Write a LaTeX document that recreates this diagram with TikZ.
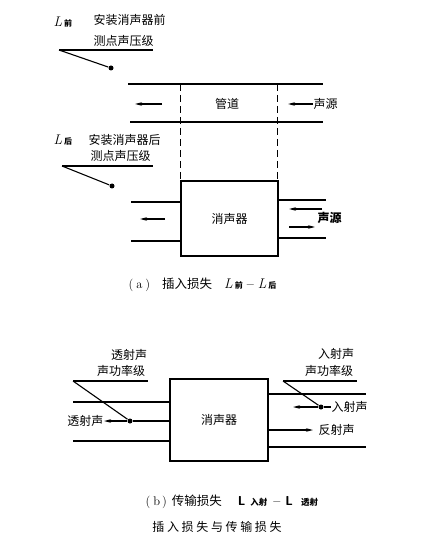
\documentclass[tikz,border=0pt]{standalone}
\usepackage{fontspec}
\newfontfamily\cjk{Noto Sans CJK SC}
\newfontfamily\cjkw[LetterSpace=22]{Noto Sans CJK SC}
\usetikzlibrary{arrows.meta}
\begin{document}
\begin{tikzpicture}[x=1pt,y=-1pt, line width=1.1pt,
  txt/.style={font=\cjk\fontsize{12}{14}\selectfont, inner sep=0pt},
  capt/.style={font=\cjk\fontsize{12.5}{14}\selectfont, inner sep=0pt},
  arr/.style={-{Stealth[length=7pt,width=3.5pt]}},
  dotp/.style={circle, fill, inner sep=0pt, minimum size=5pt},
  mbox/.style={draw, line width=1.7pt, inner sep=0pt, font=\cjk\fontsize{12}{14}\selectfont},
  dsh/.style={line width=0.9pt, dash pattern=on 7pt off 4pt}
]
\useasboundingbox (0,0) rectangle (435,553);
\newcommand{\Lsub}[1]{{\rmfamily\itshape\fontsize{14}{14}\selectfont L}\hspace{2pt}{\cjk\fontsize{8}{8}\selectfont\bfseries #1}}

% ---------- (a) top: pipe ----------
\node[txt, anchor=west] (Lq) at (53,22) {\Lsub{前}};
\node[txt, anchor=west] (t1) at (93,20) {安装消声器前};
\node[txt, anchor=west] (t2) at (93,41) {测点声压级};
\coordinate (u1a) at (59,50);
\coordinate (u1b) at (153,50);
\node[dotp] (d1) at (111,68) {};
\draw (u1a) -- (u1b);
\draw (u1a) -- (d1);

\coordinate (p1) at (128,84); \coordinate (p2) at (323,84);
\coordinate (p3) at (130,122); \coordinate (p4) at (323,122);
\draw (p1) -- (p2);
\draw (p3) -- (p4);
\node[txt] (gd) at (227,104) {管道};
\coordinate (la1) at (162,104); \coordinate (la2) at (135,104);
\draw[arr] (la1) -- (la2);
\coordinate (ra1) at (313,104); \coordinate (ra2) at (288,104);
\draw[arr] (ra1) -- (ra2);
\node[txt, anchor=west] (sy1) at (313,104) {声源};

% ---------- (a) bottom: muffler ----------
\node[txt, anchor=west] (Lh) at (53,140) {\Lsub{后}};
\node[txt, anchor=west] (t3) at (88,140) {安装消声器后};
\node[txt, anchor=west] (t4) at (90,156) {测点声压级};
\coordinate (u2a) at (62,166);
\coordinate (u2b) at (153,166);
\node[dotp] (d2) at (112,186) {};
\draw (u2a) -- (u2b);
\draw (u2a) -- (d2);

\node[mbox, minimum width=97pt, minimum height=75pt] (m1) at (229.5,218.5) {消声器};
\coordinate (v1) at (180,84); \coordinate (v2) at (277,84);
\draw[dsh] (v1) -- (v1 |- m1.north);
\draw[dsh] (v2) -- (v2 |- m1.north);

\coordinate (a1) at (131,202); \coordinate (a2) at (131,241);
\draw (a1) -- (a1 -| m1.west);
\draw (a2) -- (a2 -| m1.west);
\coordinate (a3) at (326,200); \coordinate (a4) at (326,238);
\draw (a3 -| m1.east) -- (a3);
\draw (a4 -| m1.east) -- (a4);
\coordinate (lb1) at (165,219); \coordinate (lb2) at (140,219);
\draw[arr] (lb1) -- (lb2);
\coordinate (rb1) at (322,209); \coordinate (rb2) at (289,209);
\draw[arr] (rb1) -- (rb2);
\coordinate (rc1) at (289,227); \coordinate (rc2) at (315,227);
\draw[arr] (rc1) -- (rc2);
\node[txt, anchor=west, font=\cjk\bfseries\fontsize{12}{14}\selectfont] (sy2) at (317,218) {声源};

\node[capt, anchor=west] (capa) at (128,285) {{\rmfamily(\hspace{3pt}a\hspace{3pt})}\hspace{12pt}插入损失\hspace{12pt}\Lsub{前}\hspace{4pt}{\rmfamily\bfseries --}\hspace{4pt}\Lsub{后}};

% ---------- (b) ----------
\node[txt] (tt1) at (129,355) {透射声};
\node[txt] (tt2) at (121,371) {声功率级};
\node[txt] (rt1) at (336,354) {入射声};
\node[txt] (rt2) at (329,371) {声功率级};

\node[mbox, minimum width=98pt, minimum height=82pt] (m2) at (219,420) {消声器};

\coordinate (b1) at (73,402); \coordinate (b2) at (73,441);
\draw (b1) -- (b1 -| m2.west);
\draw (b2) -- (b2 -| m2.west);
\node[dotp] (d3) at (130,421) {};
\draw (d3) -- (d3 -| m2.west);
\coordinate (u3a) at (73,381); \coordinate (u3b) at (148,381);
\draw (u3a) -- (u3b);
\draw (u3a) -- (d3);
\node[txt, anchor=east] (ts) at (104,421) {透射声};
\draw[arr] (d3) -- (ts.east);

\coordinate (c1) at (366,394); \coordinate (c2) at (366,447);
\draw (c1 -| m2.east) -- (c1);
\draw (c2 -| m2.east) -- (c2);
\coordinate (u4a) at (283,381); \coordinate (u4b) at (357,381);
\draw (u4a) -- (u4b);
\node[dotp] (d4) at (321,407) {};
\draw (u4a) -- (d4);
\coordinate (c3) at (293,407);
\draw[arr] (d4) -- (c3);
\node[txt, anchor=west] (rs) at (331,407) {入射声};
\draw (d4) -- (rs.west);
\coordinate (c4) at (313,430);
\draw[arr] (c4 -| m2.east) -- (c4);
\node[txt, anchor=west] (fs) at (318,430) {反射声};

\node[capt, anchor=west] (capb) at (145,502) {{\rmfamily(\hspace{3pt}b\hspace{2pt})}\hspace{5pt}传输损失\hspace{16pt}{\sffamily\bfseries\fontsize{13}{14}\selectfont L}\hspace{5pt}{\fontsize{8.5}{9}\selectfont\bfseries 入射}\hspace{6pt}{\rmfamily\bfseries --}\hspace{5pt}{\sffamily\bfseries\fontsize{13}{14}\selectfont L}\hspace{8pt}{\fontsize{8.5}{9}\selectfont\bfseries 透射}};
\node[inner sep=0pt, font=\cjkw\fontsize{12}{14}\selectfont] (capc) at (217,527) {插入损失与传输损失};
\end{tikzpicture}
\end{document}
